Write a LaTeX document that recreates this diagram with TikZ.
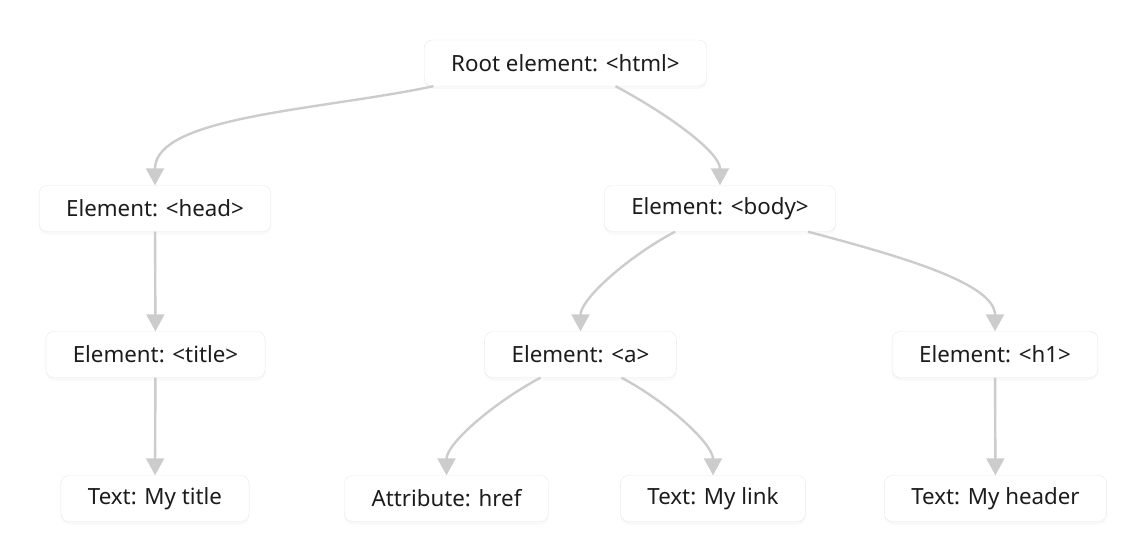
\documentclass[tikz,border=0pt]{standalone}
\usepackage{fontspec}
\setmainfont{Noto Sans}
\usetikzlibrary{arrows.meta,shadows}
\definecolor{edgegray}{HTML}{CCCCCC}
\definecolor{boxline}{HTML}{E8E8E8}
\definecolor{boxtext}{HTML}{1C1C1C}
\tikzset{
  domnode/.style={draw=boxline, fill=white, rounded corners=8pt,
    minimum height=46pt, inner xsep=27pt, text=boxtext,
    font=\fontsize{22.3}{25}\selectfont,
    drop shadow={shadow xshift=0pt, shadow yshift=-3pt, opacity=0.05}},
  edge/.style={draw=edgegray, line width=2.4pt,
    -{Triangle[length=17pt,width=18pt]}},
  bend down/.style={out=#1, in=90, out looseness=1, in looseness=0.6}
}
\begin{document}
\begin{tikzpicture}[x=1pt,y=-1pt]
\useasboundingbox (0,0) rectangle (1136,551);
% tree levels
\node[domnode] (root) at (565.5,63) {Root element: <html>};
\node[domnode] (head) at (155,208.5) {Element: <head>};
\node[domnode] (body) at (720,208.5) {Element: <body>};
\node[domnode] (title) at (155.5,354.5) {Element: <title>};
\node[domnode] (a) at (580.5,354.5) {Element: <a>};
\node[domnode] (h1) at (995,354.5) {Element: <h1>};
\node[domnode] (titletext) at (155,498.5) {Text: My title};
\node[domnode] (href) at (446.5,498.5) {Attribute: href};
\node[domnode] (linktext) at (713,498.5) {Text: My link};
\node[domnode] (headertext) at (995.5,498.5) {Text: My header};
% connectors
\draw[edge] ([xshift=-132pt]root.south) to[bend down=192] (head.north);
\draw[edge] ([xshift=50pt]root.south) to[bend down=-28] (body.north);
\draw[edge] (head) -- (title);
\draw[edge] (title) -- (titletext);
\draw[edge] ([xshift=-45pt]body.south) to[bend down=208] (a.north);
\draw[edge] ([xshift=88pt]body.south) to[bend down=-15] (h1.north);
\draw[edge] ([xshift=-40pt]a.south) to[bend down=208] (href.north);
\draw[edge] ([xshift=41pt]a.south) to[bend down=-28] (linktext.north);
\draw[edge] (h1) -- (headertext);
\end{tikzpicture}
\end{document}
